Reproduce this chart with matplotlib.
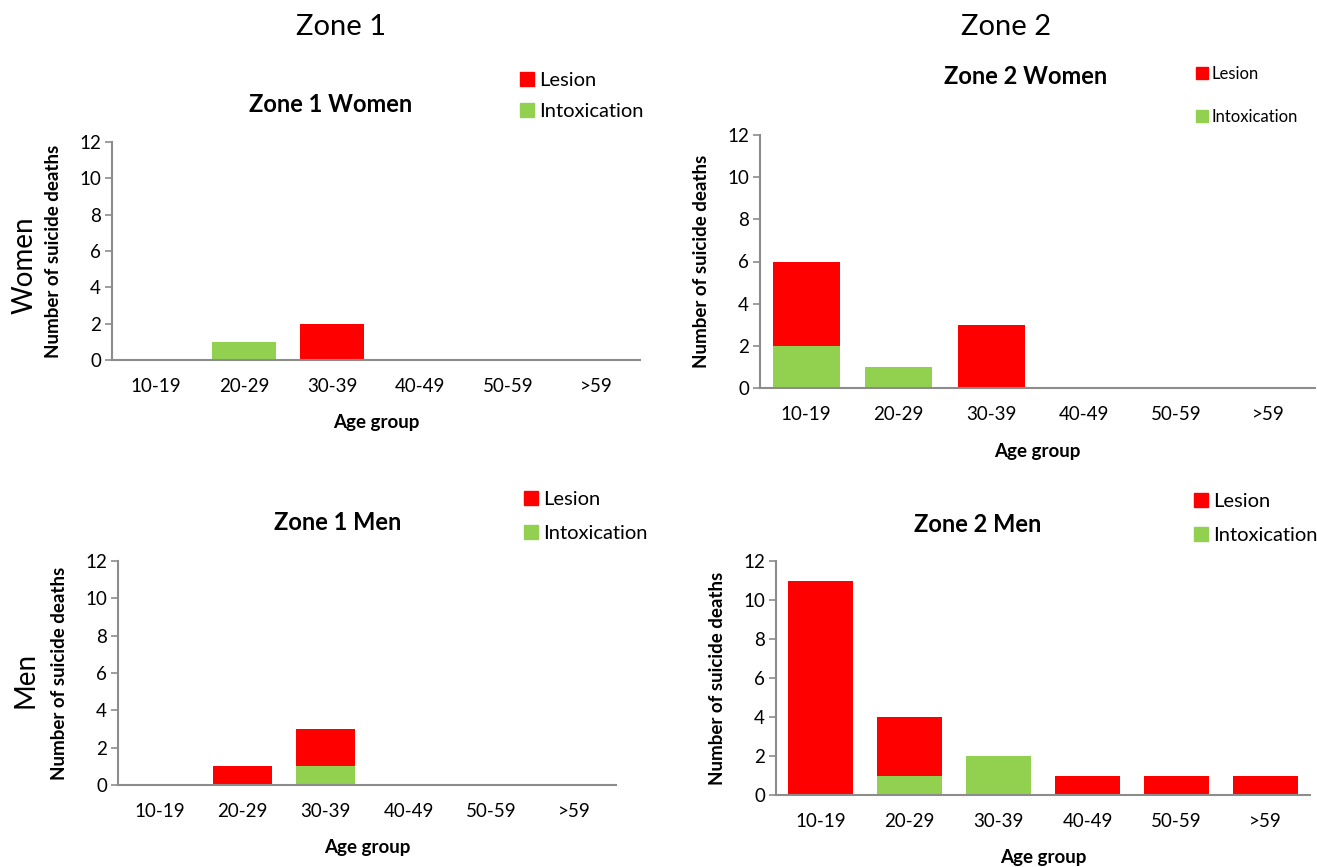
import matplotlib
matplotlib.use("Agg")
import matplotlib.pyplot as plt
from matplotlib.patches import Patch

plt.rcParams["font.family"] = ["Lato", "DejaVu Sans"]

age_groups = ["10-19", "20-29", "30-39", "40-49", "50-59", ">59"]

zone1_women_lesion = [0, 0, 2, 0, 0, 0]
zone1_women_intox = [0, 1, 0, 0, 0, 0]
zone2_women_lesion = [4, 0, 3, 0, 0, 0]
zone2_women_intox = [2, 1, 0, 0, 0, 0]
zone1_men_lesion = [0, 1, 2, 0, 0, 0]
zone1_men_intox = [0, 0, 1, 0, 0, 0]
zone2_men_lesion = [11, 3, 0, 1, 1, 1]
zone2_men_intox = [0, 1, 2, 0, 0, 0]

RED = "#ff0000"
GREEN = "#92d050"
GREY = "#8c8c8c"
W, H = 1317, 867


def fx(px):
    return px / W


def fy(py):
    return 1 - py / H


def draw_panel(rect, title, title_xy, lesion, intox, legend_xy, legend_fs, legend_gap):
    left, top, right, bottom = rect
    ax = fig.add_axes([fx(left), fy(bottom), fx(right - left), (bottom - top) / H])
    x = range(len(age_groups))
    ax.bar(x, intox, width=0.72, color=GREEN)
    ax.bar(x, lesion, width=0.72, bottom=intox, color=RED)
    ax.set_xlim(-0.5, len(age_groups) - 0.5)
    ax.set_ylim(0, 12)
    ax.set_yticks(range(0, 13, 2))
    ax.set_xticks(list(x))
    ax.set_xticklabels(age_groups)
    for s in ["top", "right"]:
        ax.spines[s].set_visible(False)
    for s in ["left", "bottom"]:
        ax.spines[s].set_color(GREY)
        ax.spines[s].set_linewidth(1.5)
    ax.tick_params(axis="x", length=0, pad=13, labelsize=13.5)
    ax.tick_params(axis="y", length=5, color=GREY, width=1.2, labelsize=13.5, pad=3)
    ax.set_xlabel("Age group", fontsize=13.5, fontweight="bold", labelpad=14)
    ax.set_ylabel("Number of suicide deaths", fontsize=13.5, fontweight="bold", labelpad=12)
    fig.text(fx(title_xy[0]), fy(title_xy[1]), title, fontsize=17, fontweight="bold",
             ha="center", va="center")
    handles = [Patch(color=RED, label="Lesion"), Patch(color=GREEN, label="Intoxication")]
    fig.legend(handles=handles, loc="upper left",
               bbox_to_anchor=(fx(legend_xy[0]), fy(legend_xy[1])),
               frameon=False, fontsize=legend_fs, handlelength=0.7, handleheight=0.7,
               handletextpad=0.25, borderpad=0, borderaxespad=0, labelspacing=legend_gap)
    return ax


fig = plt.figure(figsize=(W / 100, H / 100), dpi=100)

draw_panel((112, 142, 640, 360), "Zone 1 Women", (331, 105),
           zone1_women_lesion, zone1_women_intox, (520, 72), 14.5, 0.7)
draw_panel((760, 135, 1315, 388), "Zone 2 Women", (1026, 76),
           zone2_women_lesion, zone2_women_intox, (1196, 66), 12, 1.6)
draw_panel((118, 561, 616, 785), "Zone 1 Men", (338, 522),
           zone1_men_lesion, zone1_men_intox, (524, 491), 14.5, 0.85)
draw_panel((776, 561, 1310, 795), "Zone 2 Men", (978, 524),
           zone2_men_lesion, zone2_men_intox, (1194, 493), 14.5, 0.85)

fig.text(fx(341), fy(27), "Zone 1", fontsize=21, ha="center", va="center")
fig.text(fx(1006), fy(27), "Zone 2", fontsize=21, ha="center", va="center")
fig.text(fx(25), fy(265), "Women", fontsize=20, rotation=90, ha="center", va="center")
fig.text(fx(25), fy(680), "Men", fontsize=20, rotation=90, ha="center", va="center")

fig.savefig("out.png", dpi=100)
